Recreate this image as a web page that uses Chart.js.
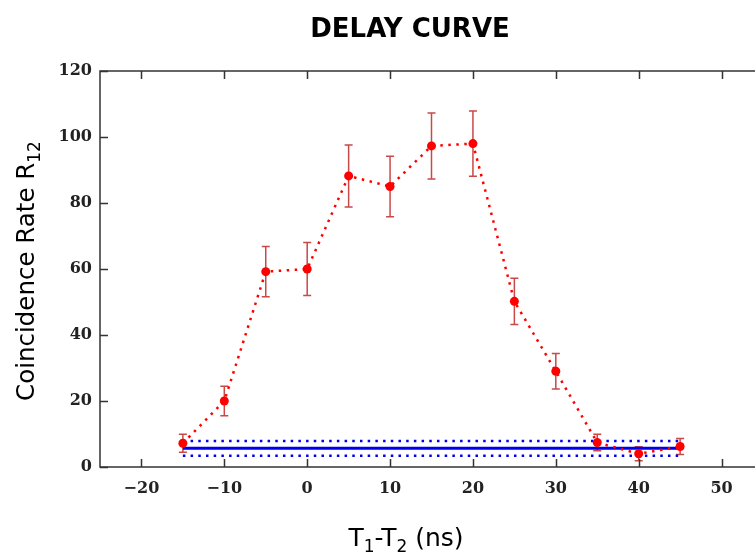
<!DOCTYPE html>
<html>
<head>
<meta charset="utf-8">
<title>Delay Curve</title>
<script src="https://cdn.jsdelivr.net/npm/chart.js@4.4.0/dist/chart.umd.min.js"></script>
<style>
  html, body { margin: 0; padding: 0; background: #fff; overflow: hidden; }
  #wrap { width: 820px; height: 556px; }
</style>
</head>
<body>
<div id="wrap"><canvas id="delayChart" width="820" height="556"></canvas></div>
<script>
// Delay curve: coincidence rate vs. delay between the two channels

// measured points
const delays = [-15, -10, -5, 0, 5, 10, 15, 20, 25, 30, 35, 40, 45];
const rates = [7.2, 20, 59.2, 60, 88.2, 85, 97.3, 98, 50.2, 29, 7.4, 4.0, 6.2];
const rateErrors = [2.7, 4.5, 7.6, 8, 9.4, 9.2, 10, 9.9, 7, 5.4, 2.5, 2.1, 2.4];

// accidental (background) level with its spread
const bandX = [-15, 45];
const bandMean = [5.7, 5.7];
const bandUpper = [7.9, 7.9];
const bandLower = [3.4, 3.4];

// axis ticks
const xTicks = [-20, -10, 0, 10, 20, 30, 40, 50];
const yTicks = [0, 20, 40, 60, 80, 100, 120];

const toPoints = (xs, ys) => xs.map((x, i) => ({ x: x, y: ys[i] }));

// vertical error bars with caps, drawn under the markers
const errorBars = {
    id: 'errorBars',
    beforeDatasetsDraw(chart) {
        const { ctx, scales: { x, y } } = chart;
        ctx.save();
        ctx.strokeStyle = '#c94848';
        ctx.lineWidth = 1.5;
        delays.forEach((d, i) => {
            const px = x.getPixelForValue(d);
            const top = y.getPixelForValue(rates[i] + rateErrors[i]);
            const bot = y.getPixelForValue(rates[i] - rateErrors[i]);
            ctx.beginPath();
            ctx.moveTo(px, top); ctx.lineTo(px, bot);
            ctx.moveTo(px - 4, top); ctx.lineTo(px + 4, top);
            ctx.moveTo(px - 4, bot); ctx.lineTo(px + 4, bot);
            ctx.stroke();
        });
        ctx.restore();
    }
};

// boxed frame with tick marks pointing inwards on all four sides
const frame = {
    id: 'frame',
    afterDraw(chart) {
        const { ctx, chartArea: a, scales: { x, y } } = chart;
        const len = 8;
        ctx.save();
        ctx.strokeStyle = '#333';
        ctx.lineWidth = 1.5;
        ctx.strokeRect(a.left, a.top, a.right - a.left, a.bottom - a.top);
        ctx.beginPath();
        xTicks.forEach(v => {
            const px = Math.round(x.getPixelForValue(v)) + 0.5;
            ctx.moveTo(px, a.bottom); ctx.lineTo(px, a.bottom - len);
            ctx.moveTo(px, a.top); ctx.lineTo(px, a.top + len);
        });
        yTicks.forEach(v => {
            const py = Math.round(y.getPixelForValue(v)) + 0.5;
            ctx.moveTo(a.left, py); ctx.lineTo(a.left + len, py);
            ctx.moveTo(a.right, py); ctx.lineTo(a.right - len, py);
        });
        ctx.stroke();
        ctx.restore();
    }
};

// writes text made of [string, isSubscript] parts starting at (0,0) on the baseline
function drawParts(ctx, parts, size, subSize, drop) {
    let x = 0;
    parts.forEach(([txt, sub]) => {
        ctx.font = (sub ? subSize : size) + 'px "DejaVu Sans"';
        ctx.fillText(txt, x, sub ? drop : 0);
        x += ctx.measureText(txt).width;
    });
}
function partsWidth(ctx, parts, size, subSize) {
    return parts.reduce((w, [txt, sub]) => {
        ctx.font = (sub ? subSize : size) + 'px "DejaVu Sans"';
        return w + ctx.measureText(txt).width;
    }, 0);
}

// axis labels with real subscripts, centred on the figure like the original
const axisLabels = {
    id: 'axisLabels',
    afterDraw(chart) {
        const { ctx } = chart;
        const xLabel = [['T', false], ['1', true], ['-T', false], ['2', true], [' (ns)', false]];
        const yLabel = [['Coincidence Rate R', false], ['12', true]];
        ctx.save();
        ctx.fillStyle = '#000';
        ctx.textBaseline = 'alphabetic';
        ctx.textAlign = 'left';

        const wx = partsWidth(ctx, xLabel, 25, 17);
        ctx.save();
        ctx.translate(406 - wx / 2, 546);
        drawParts(ctx, xLabel, 25, 17, 6);
        ctx.restore();

        const wy = partsWidth(ctx, yLabel, 24.5, 17);
        ctx.save();
        ctx.translate(33.5, 271 + wy / 2);
        ctx.rotate(-Math.PI / 2);
        drawParts(ctx, yLabel, 24.5, 17, 6);
        ctx.restore();

        ctx.restore();
    }
};

const tickFont = { family: 'DejaVu Serif', size: 16, weight: 'bold' };

new Chart(document.getElementById('delayChart'), {
    type: 'scatter',
    data: {
        datasets: [
            {
                label: 'R12',
                data: toPoints(delays, rates),
                showLine: true,
                borderColor: '#ff0000',
                borderWidth: 2.5,
                borderDash: [2.5, 5.5],
                pointRadius: 4.5,
                pointBackgroundColor: '#ff0000',
                pointBorderWidth: 0
            },
            {
                label: 'mean',
                data: toPoints(bandX, bandMean),
                showLine: true,
                borderColor: '#0000ee',
                borderWidth: 3,
                pointRadius: 0
            },
            {
                label: 'upper',
                data: toPoints(bandX, bandUpper),
                showLine: true,
                borderColor: '#0000ee',
                borderWidth: 2.5,
                borderDash: [2.5, 5.2],
                pointRadius: 0
            },
            {
                label: 'lower',
                data: toPoints(bandX, bandLower),
                showLine: true,
                borderColor: '#0000ee',
                borderWidth: 2.5,
                borderDash: [2.5, 5.2],
                pointRadius: 0
            }
        ]
    },
    options: {
        responsive: false,
        animation: false,
        layout: { padding: 0 },
        plugins: {
            legend: { display: false },
            tooltip: { enabled: false },
            title: {
                display: true,
                text: 'DELAY CURVE',
                color: '#000',
                font: { family: 'DejaVu Sans', size: 26, weight: 'bold' },
                padding: { top: 14.5, bottom: 25.3 }
            }
        },
        scales: {
            x: {
                type: 'linear',
                min: -25,
                max: 55,
                grid: { display: false },
                border: { display: false },
                afterBuildTicks: s => { s.ticks = xTicks.map(v => ({ value: v })); },
                afterFit: s => { s.height = 89; },
                ticks: {
                    color: '#222',
                    font: tickFont,
                    padding: 4,
                    maxRotation: 0,
                    callback: v => String(v).replace('-', '\u2212')
                }
            },
            y: {
                min: 0,
                max: 120,
                grid: { display: false },
                border: { display: false },
                afterBuildTicks: s => { s.ticks = yTicks.map(v => ({ value: v })); },
                afterFit: s => { s.width = 100; },
                ticks: { color: '#222', font: tickFont, padding: 0 }
            },
            // empty strip on the right so the plot box ends where the original does
            yRight: {
                position: 'right',
                min: 0,
                max: 120,
                grid: { display: false },
                border: { display: false },
                ticks: { display: false },
                afterFit: s => { s.width = 57; }
            }
        }
    },
    plugins: [errorBars, frame, axisLabels]
});
</script>
</body>
</html>
